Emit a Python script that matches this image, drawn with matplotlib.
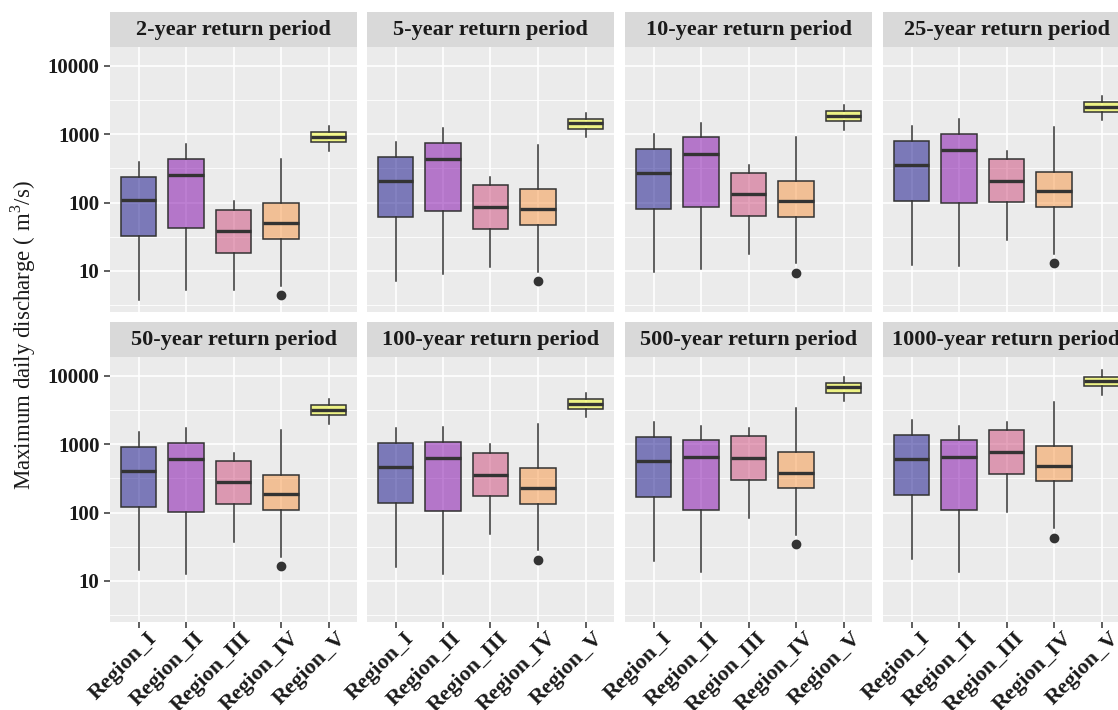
import numpy as np
import matplotlib
matplotlib.use('Agg')
from matplotlib import pyplot as plt
from matplotlib.patches import Rectangle
from matplotlib.ticker import FixedLocator, NullFormatter
from matplotlib.transforms import ScaledTranslation

plt.rcParams['font.family'] = ['Liberation Serif', 'DejaVu Serif']
plt.rcParams['mathtext.fontset'] = 'custom'
plt.rcParams['mathtext.rm'] = 'Liberation Serif'

# Data (m3/s), one row per return period, one column per region
periods = ['2-year', '5-year', '10-year', '25-year', '50-year', '100-year', '500-year', '1000-year']
regions = ['Region_I', 'Region_II', 'Region_III', 'Region_IV', 'Region_V']

whisker_low = [
    [3.8, 5.3, 5.3, 6.0, 573],
    [7.2, 8.9, 11.6, 9.8, 899],
    [9.6, 10.8, 17.7, 12.9, 1161],
    [12.4, 11.9, 28.4, 17.7, 1607],
    [14.5, 12.5, 37.5, 22.6, 1968],
    [16.0, 12.8, 48.6, 28.0, 2490],
    [19.8, 13.4, 82, 47, 4226],
    [21.2, 13.5, 103, 58.9, 5275],
]
q1 = [
    [32, 42.5, 18.5, 29.6, 776],
    [61, 74.5, 41.5, 47.5, 1200],
    [80.5, 87, 63.6, 62, 1556],
    [105, 98.6, 101, 86, 2128],
    [120, 103, 135, 109, 2636],
    [136, 106, 175, 135, 3296],
    [167, 109, 299, 229, 5650],
    [181, 110, 370, 286, 7070],
]
median = [
    [108, 255, 38.8, 49.8, 918],
    [205, 429, 85, 80, 1439],
    [273, 507, 133, 105, 1841],
    [357, 580, 206, 146, 2518],
    [409, 606, 277, 185, 3120],
    [458, 621, 357, 229, 3900],
    [566, 649, 627, 382, 6760],
    [600, 655, 759, 479, 8370],
]
q3 = [
    [239, 437, 78.7, 98.6, 1074],
    [463, 750, 179, 158, 1663],
    [612, 899, 273, 206, 2154],
    [802, 1014, 429, 282, 2917],
    [918, 1040, 573, 357, 3690],
    [1028, 1086, 750, 453, 4570],
    [1259, 1138, 1300, 759, 7820],
    [1346, 1138, 1607, 940, 9670],
]
whisker_high = [
    [395, 718, 104, 428, 1315],
    [759, 1230, 234, 701, 2037],
    [1004, 1455, 357, 918, 2636],
    [1328, 1663, 566, 1285, 3606],
    [1489, 1738, 750, 1592, 4520],
    [1702, 1780, 993, 1990, 5650],
    [2084, 1858, 1702, 3373, 9570],
    [2228, 1858, 2084, 4170, 11990],
]
# single low outlier of Region_IV in every panel
outlier_region_iv = [4.4, 7.2, 9.4, 13.0, 16.4, 20.5, 34.4, 43]

fill_colors = ['#0D0887', '#7E03A8', '#CC4778', '#F89540', '#F0F921']

W, H = 1118, 710
fig = plt.figure(figsize=(W / 100, H / 100), dpi=100)

# panel geometry in pixels (last column runs off the right edge like the reference)
col_left = [110, 367, 625, 883]
panel_w = 247
row_top = [47, 357]
panel_h = 265
strip_h = 35

edge = '#333333'
positions = np.arange(1, len(regions) + 1)

for k, period in enumerate(periods):
    r, c = divmod(k, 4)
    left = col_left[c] / W
    bottom = 1 - (row_top[r] + panel_h) / H
    ax = fig.add_axes([left, bottom, panel_w / W, panel_h / H])
    ax.set_facecolor('#EBEBEB')
    for s in ax.spines.values():
        s.set_visible(False)

    stats = []
    for j in range(len(regions)):
        fl = [outlier_region_iv[k]] if j == 3 else []
        stats.append({'whislo': whisker_low[k][j], 'q1': q1[k][j], 'med': median[k][j],
                      'q3': q3[k][j], 'whishi': whisker_high[k][j], 'fliers': fl})

    bp = ax.bxp(stats, positions=positions, widths=0.75, patch_artist=True, showcaps=False,
                boxprops=dict(edgecolor=edge, linewidth=1.1),
                medianprops=dict(color=edge, linewidth=2.4, solid_capstyle='butt'),
                whiskerprops=dict(color=edge, linewidth=1.1),
                flierprops=dict(marker='o', markerfacecolor=edge, markeredgecolor=edge,
                                markersize=6))
    for box, col in zip(bp['boxes'], fill_colors):
        box.set_facecolor(matplotlib.colors.to_rgba(col, 0.5))
        box.set_zorder(2)

    ax.set_yscale('log')
    ax.set_ylim(10 ** 0.4, 10 ** 4.275)
    ax.set_xlim(0.4, 5.6)

    ax.yaxis.set_major_locator(FixedLocator([10, 100, 1000, 10000]))
    ax.yaxis.set_minor_locator(FixedLocator([10 ** 0.5, 10 ** 1.5, 10 ** 2.5, 10 ** 3.5]))
    ax.yaxis.set_minor_formatter(NullFormatter())
    ax.set_axisbelow(True)
    ax.grid(True, which='major', color='white', linewidth=1.2)
    ax.grid(True, which='minor', axis='y', color='white', linewidth=0.6)
    ax.tick_params(which='minor', length=0)
    ax.tick_params(which='major', length=4, width=1.1, color=edge)

    ax.set_xticks(positions)
    if r == 1:
        labels = ax.set_xticklabels(regions, rotation=45, ha='right', va='top',
                                    rotation_mode='anchor', fontsize=16, fontweight='bold',
                                    color='#1A1A1A')
        # nudge labels so their ends sit just right of the ticks, like ggplot
        shift = ScaledTranslation(8 / 100, 4 / 100, fig.dpi_scale_trans)
        for lab in labels:
            lab.set_transform(lab.get_transform() + shift)
    else:
        ax.set_xticklabels([])
        ax.tick_params(axis='x', length=0)

    if c == 0:
        ax.set_yticklabels(['10', '100', '1000', '10000'], fontsize=15, fontweight='bold',
                           color='#1A1A1A')
    else:
        ax.set_yticklabels([])
        ax.tick_params(axis='y', length=0)

    # facet strip
    sh = strip_h / panel_h
    ax.add_patch(Rectangle((0, 1), 1, sh, transform=ax.transAxes, clip_on=False,
                           facecolor='#D9D9D9', edgecolor='none'))
    ax.text(0.5, 1 + sh / 2, period + ' return period', transform=ax.transAxes,
            ha='center', va='center', fontsize=16, fontweight='bold', color='#1A1A1A')

fig.text(23 / W, 1 - 335 / H, 'Maximum daily discharge ( m$^{3}$/s)', rotation=90,
         ha='center', va='center', fontsize=16.5, color='#1A1A1A')

fig.savefig('out.png', dpi=100, facecolor='white')
